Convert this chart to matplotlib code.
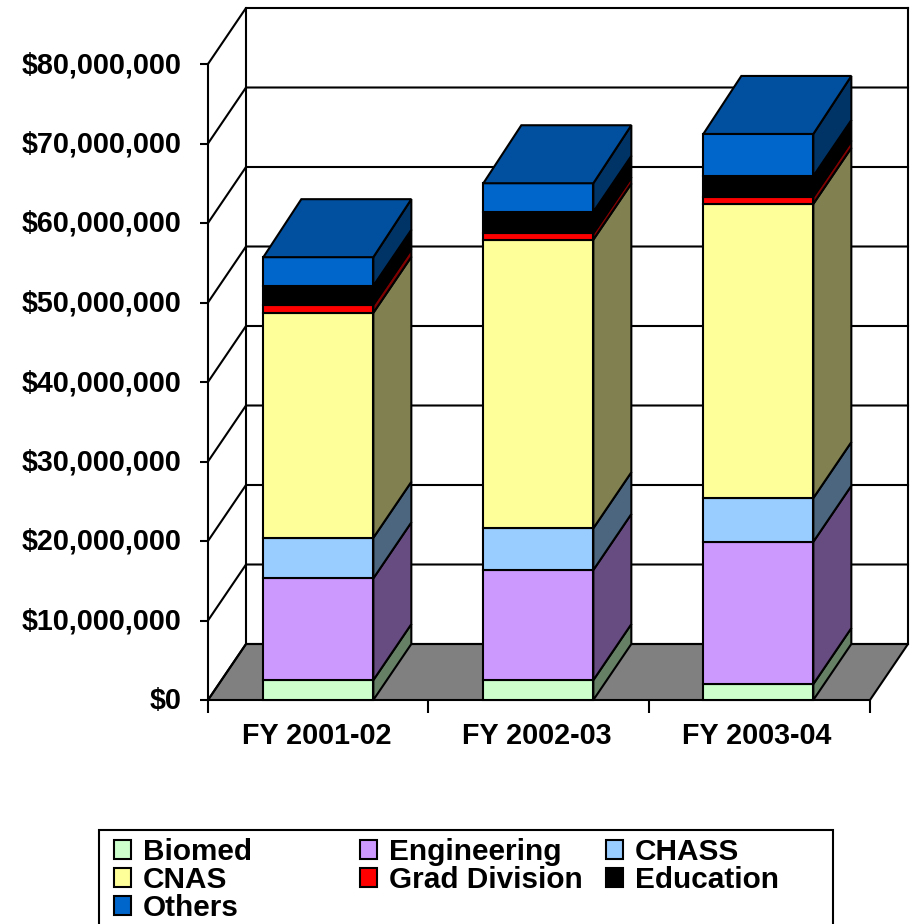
import matplotlib
matplotlib.use("Agg")
import matplotlib.pyplot as plt
from matplotlib.patches import Polygon, Rectangle
from matplotlib.transforms import ScaledTranslation

categories = ["FY 2001-02", "FY 2002-03", "FY 2003-04"]
series = ["Biomed", "Engineering", "CHASS", "CNAS", "Grad Division", "Education", "Others"]
biomed = [2.5, 2.5, 2.0]
engineering = [12.8, 13.85, 17.9]
chass = [5.1, 5.25, 5.5]
cnas = [28.3, 36.3, 37.0]
grad = [1.0, 0.8, 0.9]
education = [2.4, 2.7, 2.6]
others = [3.6, 3.6, 5.3]
values = [biomed, engineering, chass, cnas, grad, education, others]
front = ["#CCFFCC", "#CC99FF", "#99CCFF", "#FFFF99", "#FF0000", "#000000", "#0066CC"]
side = ["#668066", "#664C80", "#4C6680", "#808050", "#800000", "#000000", "#003366"]
top_col = "#00509F"
yticks = list(range(0, 81, 10))
ylabels = ["$0"] + [f"${v},000,000" for v in yticks[1:]]

W, H = 914, 924
plt.rcParams["font.family"] = ["Liberation Sans", "DejaVu Sans"]
plt.rcParams["font.weight"] = "bold"
plt.rcParams["font.size"] = 20.7
fig = plt.figure(figsize=(W / 100, H / 100), dpi=100)
L, R, B, T = 208, 870, 700, 64
ax = fig.add_axes([L / W, 1 - B / H, (R - L) / W, (B - T) / H])
ax.set_xlim(0, 3)
ax.set_ylim(0, 80)
ax.patch.set_visible(False)
for s in ax.spines.values():
    s.set_visible(False)

DX = 38 / (R - L) * 3
DY = 56 / (B - T) * 80
DY_TOP = 58 / (B - T) * 80
STEP = 220 / (R - L) * 3
lw = 1.5
kw = dict(clip_on=False, edgecolor="black", linewidth=lw, joinstyle="miter")

# floor
ax.add_patch(Polygon([(0, 0), (3, 0), (3 + DX, DY), (DX, DY)], facecolor="#808080", zorder=1, **kw))
# walls and gridlines
ymax = 80
for v in yticks:
    ax.plot([0, DX, 3 + DX], [v, v + DY, v + DY], color="black", lw=lw, clip_on=False, zorder=1.5)
ax.plot([0, 0], [0, ymax], color="black", lw=lw, clip_on=False, zorder=1.5)
ax.plot([DX, DX], [DY, ymax + DY], color="black", lw=lw, clip_on=False, zorder=1.5)
ax.plot([3 + DX, 3 + DX], [DY, ymax + DY], color="black", lw=lw, clip_on=False, zorder=1.5)

# bars
width = 110 / (R - L) * 3
centers = [0.5 * STEP * 1.003 + i * STEP for i in range(3)]
for i in range(3):
    x0 = centers[i] - width / 2
    x1 = x0 + width
    bottom = 0
    for j in range(len(series)):
        v = values[j][i]
        dy_up = DY_TOP if j == len(series) - 1 else DY
        ax.add_patch(Polygon([(x1, bottom), (x1 + DX, bottom + DY), (x1 + DX, bottom + v + dy_up), (x1, bottom + v)],
                             facecolor=side[j], zorder=3, **kw))
        ax.add_patch(Rectangle((x0, bottom), width, v, facecolor=front[j], zorder=3, **kw))
        bottom += v
    ax.add_patch(Polygon([(x0, bottom), (x1, bottom), (x1 + DX, bottom + DY_TOP), (x0 + DX, bottom + DY_TOP)],
                         facecolor=top_col, zorder=3, **kw))

# axes ticks
ax.set_yticks(yticks)
ax.set_yticklabels(ylabels)
ax.set_xticks(centers)
ax.set_xticklabels(categories)
ax.set_xticks([0, STEP, 2, 3], minor=True)
ax.tick_params(axis="y", length=5.8, width=lw, pad=13.6)
ax.tick_params(axis="x", which="major", length=0, pad=16)
ax.tick_params(axis="x", which="minor", length=9.4, width=lw, direction="out")
for t in ax.get_yticklabels():
    t.set_transform(t.get_transform() + ScaledTranslation(0, 2 / 100, fig.dpi_scale_trans))
for t in ax.get_xticklabels():
    t.set_transform(t.get_transform() + ScaledTranslation(-1.5 / 100, 0, fig.dpi_scale_trans))

# legend: frame runs off the bottom of the picture, three equal columns
fig.add_artist(Rectangle((99 / W, 1 - 930 / H), (833 - 99) / W, 100 / H, transform=fig.transFigure,
                         facecolor="white", edgecolor="black", linewidth=lw, zorder=4))
handles = [Rectangle((0, 0), 1, 1, facecolor=c, edgecolor="black", linewidth=1.5) for c in front]
columns = [[0, 3, 6], [1, 4], [2, 5]]
col_x = [114, 360, 606]
for idxs, x in zip(columns, col_x):
    leg = fig.legend([handles[k] for k in idxs], [series[k] for k in idxs], ncol=1,
                     loc="upper left", bbox_to_anchor=(x / W, 1 - 838 / H), bbox_transform=fig.transFigure,
                     frameon=False, borderaxespad=0, borderpad=0, fontsize=21.4,
                     handlelength=0.56, handleheight=0.56, handletextpad=0.4, labelspacing=-0.0)
    leg.set_zorder(5)

fig.savefig("out.png", dpi=100)
